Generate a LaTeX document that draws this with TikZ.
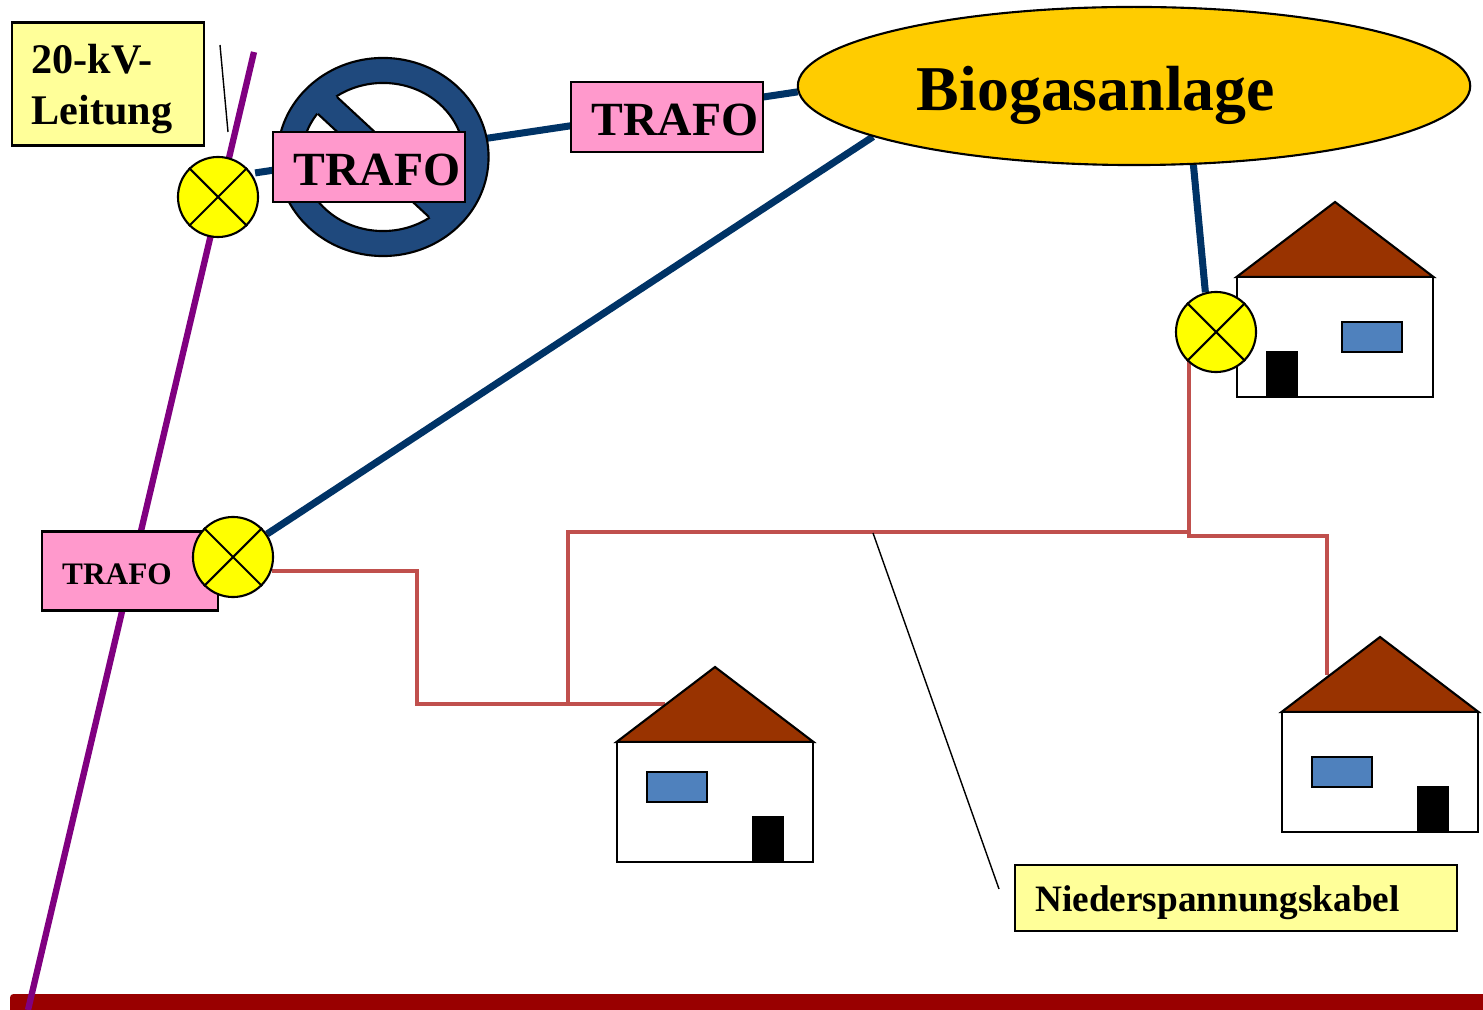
\documentclass[tikz,border=0pt]{standalone}
\usepackage{fontspec}
\setmainfont{Liberation Serif}
\usepackage{tikz}
\usetikzlibrary{shapes.geometric,backgrounds}
\definecolor{trafopink}{HTML}{FF99CC}
\definecolor{tagyellow}{HTML}{FFFF99}
\definecolor{switchyellow}{HTML}{FFFF00}
\definecolor{mvblue}{HTML}{003366}
\definecolor{lvred}{HTML}{C0504D}
\definecolor{bannedblue}{HTML}{1F497D}
\definecolor{windowblue}{HTML}{4F81BD}
\definecolor{roofbrown}{HTML}{993300}
\definecolor{barred}{HTML}{990000}
\definecolor{hvpurple}{HTML}{800080}
\definecolor{biogold}{HTML}{FFCC00}

\begin{document}
\begin{tikzpicture}[x=0.01cm,y=-0.01cm,line width=0.6pt,font=\bfseries,
                    inner sep=0pt]
  \tikzset{
    trafo/.style={draw,fill=trafopink,minimum width=1.92cm,minimum height=0.70cm,
                  text height=0.37cm,text depth=0pt,font=\fontsize{13.55}{16}\bfseries},
    tag/.style={draw,fill=tagyellow},
    switch/.style={circle,draw,fill=switchyellow,minimum size=0.80cm},
    wall/.style={draw,fill=white,minimum width=1.96cm,minimum height=1.20cm},
    door/.style={fill=black,minimum width=0.32cm,minimum height=0.46cm},
    window/.style={draw,fill=windowblue,minimum width=0.60cm,minimum height=0.30cm},
    roof/.style={draw,fill=roofbrown},
    mvcable/.style={draw=mvblue,line width=2pt},
    lvcable/.style={draw=lvred,line width=1.3pt},
    hvline/.style={draw=hvpurple,line width=1.8pt},
    pointer/.style={draw=black,line width=0.4pt}
  }
  \useasboundingbox (0,0) rectangle (1483,1010);

  % plant and transformers
  \node[ellipse,draw,fill=biogold,minimum width=6.72cm,minimum height=1.58cm,
        text height=0.48cm,text depth=0pt,font=\fontsize{18.15}{22}\bfseries]
        (biogas) at (1134,86) {Biogasanlage\hspace*{0.76cm}};

  % struck out transformer
  \node[ellipse,draw,fill=bannedblue,minimum width=2.11cm,minimum height=1.98cm]
        (banned) at (383,157) {};
  \node[ellipse,draw,fill=white,minimum width=1.62cm,minimum height=1.48cm]
        (bannedhole) at (383,157) {};
  \fill[bannedblue] (328,89) -- (457,208) -- (438,225) -- (309,106) -- cycle;
  \draw (337,97) -- (448,200) (318,114) -- (429,217);

  \node[trafo] (trafoa) at (369,167) {\hspace*{0.16cm}TRAFO};
  \node[trafo] (trafob) at (667,117) {\hspace*{0.16cm}TRAFO};
  \node[trafo,minimum width=1.76cm,minimum height=0.79cm,text height=0.27cm,
        font=\fontsize{8.9}{11}\bfseries] (trafoc) at (130,571)
        {TRAFO\hspace*{0.26cm}};

  % houses
  \foreach \hs/\x/\y/\dx/\wx/\wy in {housea/1335/337/-53/37/0,houseb/715/802/53/-38/-15,housec/1380/772/53/-38/0} {
    \draw[roof] (\x-98.5,\y-60) -- (\x,\y-135) -- (\x+98.5,\y-60) -- cycle;
    \node[wall] (\hs) at (\x,\y) {};
    \node[door] (\hs door) at (\x+\dx,\y+37) {};
    \node[window] (\hs win) at (\x+\wx,\y+\wy) {};
  }

  % switches
  \foreach \sw/\pos in {swa/{218,197},swb/{233,557},swc/{1216,332}} {
    \node[switch] (\sw) at (\pos) {};
    \draw (\sw.45) -- (\sw.225) (\sw.135) -- (\sw.315);
  }

  % labels
  \node[tag,minimum width=1.92cm,minimum height=1.23cm,text width=1.53cm,
        inner xsep=0.195cm,align=left,font=\fontsize{12}{14.5}\bfseries]
        (hvtag) at (108,84) {\rule{0pt}{0.39cm}20-kV-\\Leitung};
  \node[tag,minimum width=4.42cm,minimum height=0.66cm,text height=0.27cm,
        text depth=0pt,font=\fontsize{10.6}{13}\bfseries] (lvtag) at (1236,898)
        {Niederspannungskabel\hspace*{0.37cm}};

  \coordinate (hvtop) at (254,52);
  \coordinate (hvend) at (28,1010);
  \coordinate (tipa) at (220,45);
  \coordinate (tipb) at (228,132);
  \coordinate (tipc) at (873,533);
  \coordinate (tipd) at (999,889);
  \coordinate (roofb) at (665,704);
  \coordinate (roofc) at (1327,675);
  \coordinate (busr) at (1189,532);
  \coordinate (busl) at (568,532);
  \coordinate (busd) at (568,704);
  \coordinate (swcfoot) at (1189,360);

  \begin{pgfonlayer}{background}
    \fill[barred,rounded corners=1pt] (10,994) rectangle (1500,1030);
    \draw[hvline] (hvtop) -- (hvend);
    \draw[mvcable,shorten <=1pt] (swa.35) -- (biogas.181);
    \draw[mvcable] (swb.34) -- (biogas.191);
    \draw[mvcable] (biogas.-53) -- (swc.105);
    \draw[lvcable] (swb.-20) -| (417,704) -- (roofb);
    \draw[lvcable] (swcfoot) -- (busr) -- (busl) -- (busd);
    \draw[lvcable] (swcfoot) -- (1189,536) -- (1327,536) -- (roofc);
  \end{pgfonlayer}

  \draw[pointer] (tipa) -- (tipb);
  \draw[pointer] (tipc) -- (tipd);
\end{tikzpicture}
\end{document}
